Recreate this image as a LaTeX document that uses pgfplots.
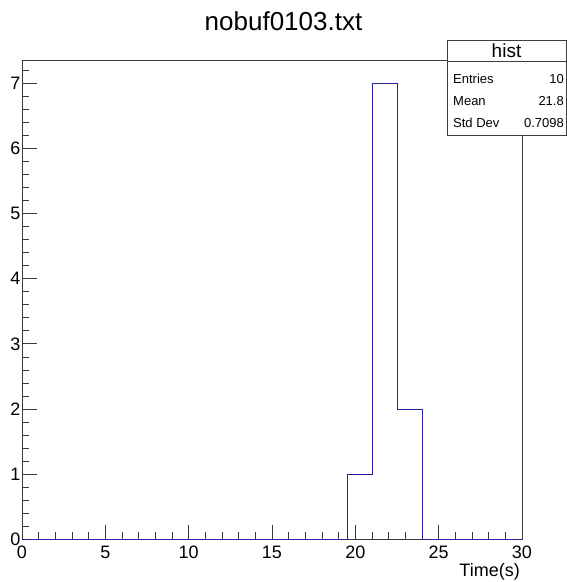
\documentclass[border=0pt]{standalone}
\usepackage{fontspec}
\setmainfont{Liberation Sans}
\usepackage{pgfplots}
\pgfplotsset{compat=1.18}
\definecolor{rootblue}{RGB}{35,35,160}
\definecolor{framegrey}{RGB}{60,60,60}

\begin{document}
\begin{tikzpicture}
\begin{axis}[
  name=ax, scale only axis, width=500pt, height=478.5pt,
  xmin=0, xmax=30, ymin=0, ymax=7.35,
  xtick={0,5,...,30}, ytick={0,1,...,7},
  minor xtick={0,1,...,30}, minor ytick={0,0.2,...,7.3},
  tick align=inside, tick pos=left,
  major tick length=14.5pt, minor tick length=7.2pt,
  axis line style={framegrey, line width=0.8pt},
  tick style={framegrey, line width=0.8pt},
  /pgf/number format/assume math mode=true,
  tick label style={font=\fontsize{18}{21}\selectfont, inner sep=1.5pt},
  xticklabel style={yshift=-5pt},
  xlabel={Time(s)},
  xlabel style={font=\fontsize{18}{21}\selectfont, at={(rel axis cs:1,0)},
    anchor=north east, xshift=-2pt, yshift=-24pt, inner sep=0pt},
  clip=false
]
% 20 bins of width 1.5 over 0..30
\addplot[const plot, rootblue, line width=0.9pt] coordinates {
  (0,0) (1.5,0) (3,0) (4.5,0) (6,0) (7.5,0) (9,0) (10.5,0) (12,0) (13.5,0)
  (15,0) (16.5,0) (18,0) (19.5,1) (21,7) (22.5,2) (24,0) (25.5,0) (27,0)
  (28.5,0) (30,0)
};
\end{axis}

\begin{scope}[shift={(ax.south west)}]
  % title
  \node[font=\fontsize{26}{31}\selectfont] at (261.5pt,518.2pt) {nobuf0103.txt};
  % stats box
  \filldraw[fill=white, draw=framegrey, line width=0.8pt]
    (425pt,404.2pt) rectangle (544pt,498.5pt);
  \draw[framegrey, line width=0.8pt] (425pt,477.5pt) -- (544pt,477.5pt);
  \node[font=\fontsize{19}{22}\selectfont] at (484.5pt,488pt) {hist};
  \begin{scope}[every node/.style={font=\fontsize{13}{15}\selectfont, inner sep=0pt}]
    \node[anchor=west] at (431pt,460.2pt) {Entries};
    \node[anchor=east] at (542pt,460.2pt) {10};
    \node[anchor=west] at (431pt,438.2pt) {Mean};
    \node[anchor=east] at (542pt,438.2pt) {21.8};
    \node[anchor=west] at (431pt,416.2pt) {Std Dev};
    \node[anchor=east] at (542pt,416.2pt) {0.7098};
  \end{scope}
  \pgfresetboundingbox
  \path (-22pt,-42.8pt) rectangle (545pt,539.2pt);
\end{scope}
\end{tikzpicture}
\end{document}
